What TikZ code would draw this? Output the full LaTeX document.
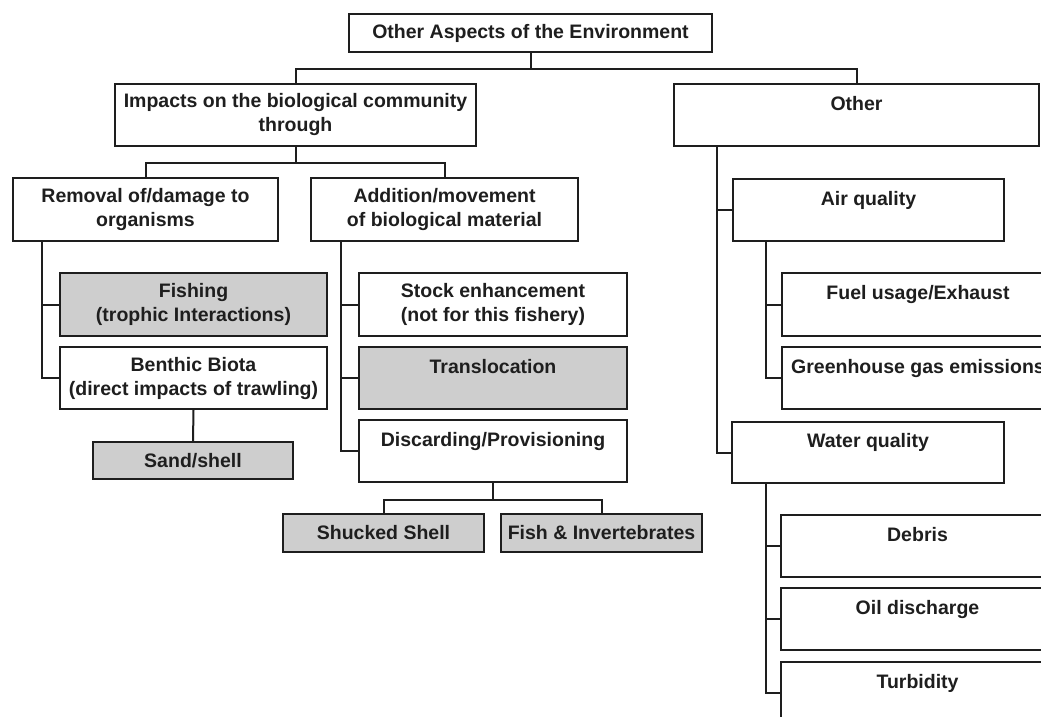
\documentclass[tikz,border=0pt]{standalone}
\usepackage{fontspec}
\setmainfont{Liberation Sans}
\definecolor{shade}{RGB}{206,206,206}
\definecolor{ink}{RGB}{30,30,30}
\tikzset{
  box/.style={draw=ink, line width=2pt, inner sep=0pt, align=center,
    anchor=north west, text=ink,
    font=\fontsize{19.5}{24}\selectfont\bfseries},
  shaded/.style={box, fill=shade},
  link/.style={draw=ink, line width=2pt}
}
\begin{document}
\begin{tikzpicture}[x=1pt,y=-1pt]
\useasboundingbox (0,0) rectangle (1041,717);
\clip (0,0) rectangle (1041,717);
\fill[white] (0,0) rectangle (1041,717);

% top level
\node[box, minimum width=363pt, minimum height=38pt] (root) at (348,13) {Other Aspects of the Environment};
\node[box, minimum width=361pt, minimum height=62pt] (impacts) at (114,83) {Impacts on the biological community\\through};
\node[box, minimum width=365pt, minimum height=62pt] (other) at (673,83) {Other\\~};

% biological community branch
\node[box, minimum width=265pt, minimum height=63pt] (removal) at (12,177) {Removal of/damage to\\organisms};
\node[box, minimum width=267pt, minimum height=63pt] (addition) at (310,177) {Addition/movement\\of biological material};

\node[shaded, minimum width=267pt, minimum height=63pt] (fishing) at (59,272) {Fishing\\(trophic Interactions)};
\node[box, minimum width=267pt, minimum height=62pt] (benthic) at (59,346) {Benthic Biota\\(direct impacts of trawling)};
\node[shaded, minimum width=200pt, minimum height=37pt] (sand) at (92,441) {Sand/shell};

\node[box, minimum width=268pt, minimum height=63pt] (stock) at (358,272) {Stock enhancement\\(not for this fishery)};
\node[shaded, minimum width=268pt, minimum height=62pt] (transl) at (358,346) {Translocation\\~};
\node[box, minimum width=268pt, minimum height=62pt] (disc) at (358,419) {Discarding/Provisioning\\~};
\node[shaded, minimum width=201pt, minimum height=38pt] (shucked) at (282,513) {Shucked Shell};
\node[shaded, minimum width=201pt, minimum height=38pt] (fishinv) at (500,513) {Fish \& Invertebrates};

% other branch
\node[box, minimum width=271pt, minimum height=62pt] (air) at (732,178) {Air quality\\~};
\node[box, minimum width=272pt, minimum height=63pt] (fuel) at (781,272) {Fuel usage/Exhaust\\~};
\node[box, minimum width=272pt, minimum height=62pt] (green) at (781,346) {Greenhouse gas emissions\\~};
\node[box, minimum width=272pt, minimum height=61pt] (water) at (731,421) {Water quality\\~};
\node[box, minimum width=273pt, minimum height=62pt] (debris) at (780,514) {Debris\\~};
\node[box, minimum width=273pt, minimum height=62pt] (oil) at (780,587) {Oil discharge\\~};
\node[box, minimum width=273pt, minimum height=62pt] (turb) at (780,661) {Turbidity\\~};

% connectors
\draw[link] (root.south) -- ++(0,16) -| (impacts.north);
\draw[link] (root.south) -- ++(0,16) -| (other.north);
\draw[link] (impacts.south) -- ++(0,16) -| (removal.north);
\draw[link] (impacts.south) -- ++(0,16) -| (addition.north);

\draw[link] ([xshift=30pt]removal.south west) |- (fishing.west);
\draw[link] ([xshift=30pt]removal.south west) |- (benthic.west);
\draw[link] (benthic.south) -- (sand.north);

\draw[link] ([xshift=31pt]addition.south west) |- (stock.west);
\draw[link] ([xshift=31pt]addition.south west) |- (transl.west);
\draw[link] ([xshift=31pt]addition.south west) |- (disc.west);
\draw[link] (disc.south) -- ++(0,17) -| (shucked.north);
\draw[link] (disc.south) -- ++(0,17) -| (fishinv.north);

\draw[link] ([xshift=44pt]other.south west) |- (air.west);
\draw[link] ([xshift=44pt]other.south west) |- (water.west);
\draw[link] ([xshift=34pt]air.south west) |- (fuel.west);
\draw[link] ([xshift=34pt]air.south west) |- (green.west);
\draw[link] ([xshift=35pt]water.south west) |- (debris.west);
\draw[link] ([xshift=35pt]water.south west) |- (oil.west);
\draw[link] ([xshift=35pt]water.south west) |- (turb.west);
\end{tikzpicture}
\end{document}
